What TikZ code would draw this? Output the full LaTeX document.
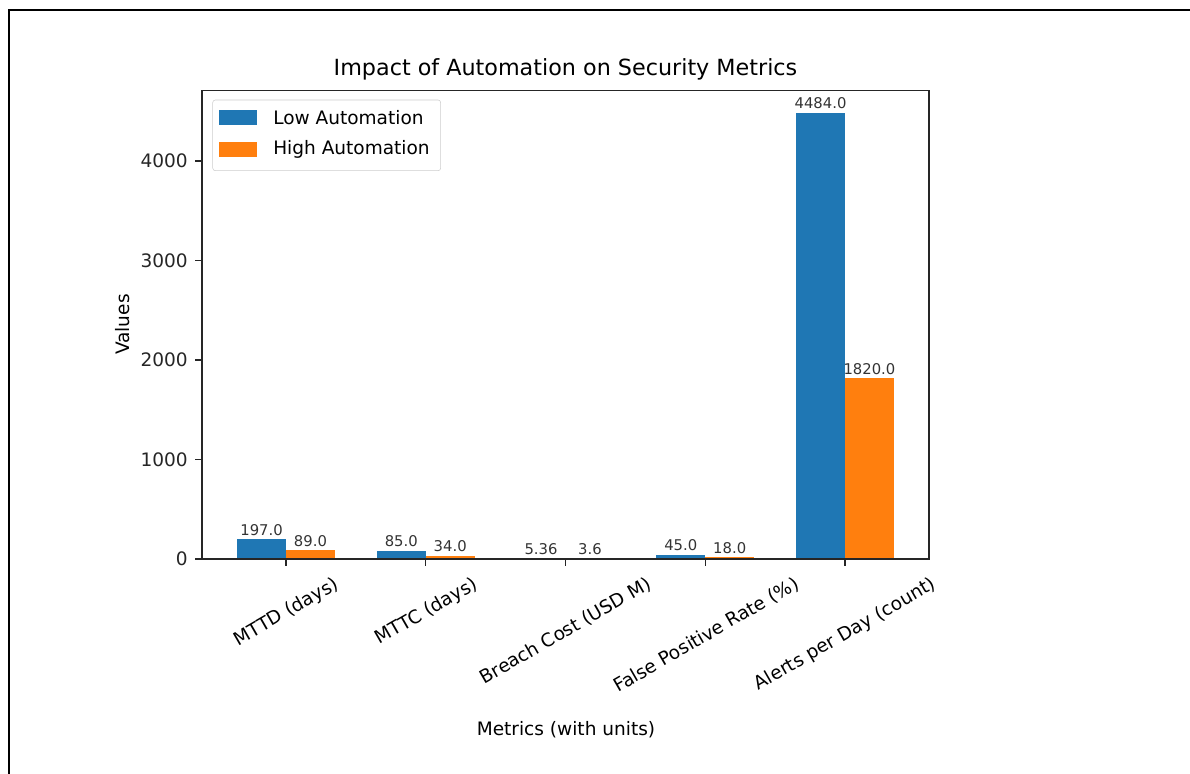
\documentclass[tikz,border=0pt]{standalone}
\usepackage{fontspec}
\setmainfont{DejaVu Sans}
\usetikzlibrary{positioning}
\definecolor{lowauto}{HTML}{1F77B4}
\definecolor{highauto}{HTML}{FF7F0E}

\begin{document}
\begin{tikzpicture}[x=0.75pt,y=0.75pt,
    ticklabel/.style={font=\fontsize{13.9}{16}\selectfont,inner sep=0pt},
    barlabel/.style={font=\fontsize{11.1}{13}\selectfont,text=black!80,inner sep=0pt,anchor=south,yshift=2.5pt},
    legkey/.style={minimum width=28.5pt,minimum height=11.25pt,inner sep=0pt}]
  \useasboundingbox (0,0) rectangle (1190,774);
  \draw[line width=1.5pt] (8.5,0) -- (8.5,764) -- (1190,764);
  \node[font=\fontsize{16.7}{20}\selectfont,anchor=base] (title) at (565.5,698) {Impact of Automation on Security Metrics};
  \begin{scope}[shift={(286,215)},x=104.81pt,y=0.07463pt]
    \def\bw{0.35}
    \foreach \i/\lo/\lotxt/\hi/\hitxt in {0/197/197.0/89/89.0,1/85/85.0/34/34.0,2/5.36/5.36/3.6/3.6,3/45/45.0/18/18.0,4/4484/4484.0/1820/1820.0} {
      \fill[lowauto] (\i-\bw,0) rectangle (\i,\lo);
      \fill[highauto] (\i,0) rectangle (\i+\bw,\hi);
      \node[barlabel] (lo\i) at (\i-\bw/2,\lo) {\lotxt};
      \node[barlabel] (hi\i) at (\i+\bw/2,\hi) {\hitxt};
    }
    \draw[line width=1.1pt,black!85] (-0.6,0) rectangle (4.6,4708);
    \foreach \v in {0,1000,2000,3000,4000} {
      \draw[line width=1.1pt,black!85] (-0.6,\v) -- ++(-5.25pt,0) node[ticklabel,left=5pt] (y\v) {\v};
    }
    \foreach \i/\lab/\dx in {0/MTTD (days)/33.9,1/MTTC (days)/33.5,2/Breach Cost (USD M)/58.8,3/False Positive Rate (\%)/65.0,4/Alerts per Day (count)/62.6} {
      \draw[line width=1.1pt,black!85] (\i,0) -- ++(0,-5.25pt);
      \node[ticklabel,rotate=30,anchor=north east,text height=12.9pt,text depth=3.3pt] (x\i) at ([xshift=\dx pt,yshift=-10.1pt]\i,0) {\lab};
    }
  \end{scope}
  \node[ticklabel,rotate=90] (ylab) at (123,449.5) {Values};
  \node[ticklabel] (xlab) at (566,44) {Metrics (with units)};
  \draw[black!20,fill=white,rounded corners=2pt] (212.7,674) rectangle (440.7,603.3);
  \node[legkey,fill=lowauto] (lowkey) at (238,656.5) {};
  \node[ticklabel,right=11.8pt of lowkey] (lowtext) {Low Automation};
  \node[legkey,fill=highauto] (highkey) at (238,624.3) {};
  \node[ticklabel,right=11.8pt of highkey] (hightext) {High Automation};
\end{tikzpicture}
\end{document}
